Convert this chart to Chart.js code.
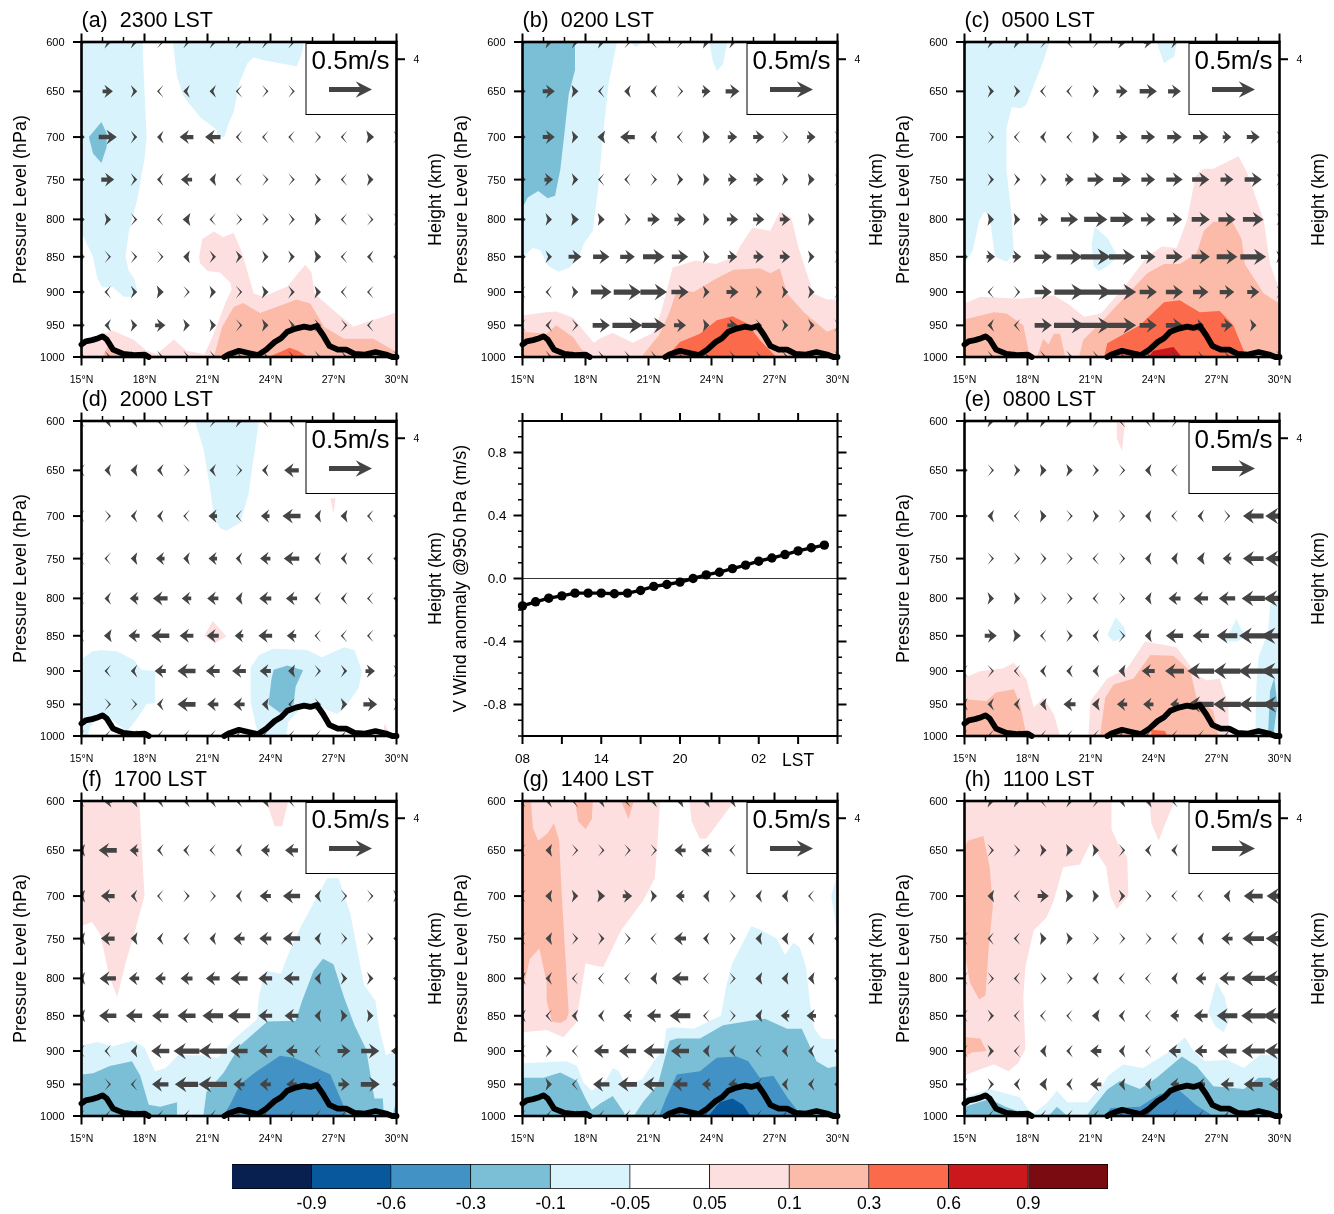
<!DOCTYPE html>
<html>
<head>
<meta charset="utf-8">
<title>Diurnal meridional wind anomaly</title>
<script src="https://cdn.jsdelivr.net/npm/chart.js@4/dist/chart.umd.js"></script>
<style>
  body { margin: 0; background: #fff; }
  #page { position: relative; width: 1334px; height: 1214px; overflow: hidden; }
  canvas { position: absolute; }
</style>
</head>
<body>
<div id="page"></div>
<script>
// shared axes
const pressureLevels = [600, 650, 700, 750, 800, 850, 900, 950, 1000];
const windLats = [15, 16.25, 17.5, 18.75, 20, 21.25, 22.5, 23.75, 25, 26.25, 27.5, 28.75, 30];
const heightTickPressure = [617];
const heightTickLabels = ["4"];

// colour bar
const bandColors = ["#08204f", "#08589e", "#4292c6", "#7bbfd6", "#d9f3fd", "#ffffff", "#fddfe0", "#fcbba9", "#fb6a4a", "#cb181d", "#7a0b10"];
const bandLabels = ["-0.9", "-0.6", "-0.3", "-0.1", "-0.05", "0.05", "0.1", "0.3", "0.6", "0.9"];

// terrain profile (lat, hPa), null leaves the flat stretch to the axis line
const terrainLat = [15, 15.2, 15.5, 15.8, 16, 16.2, 16.5, 17, 17.5, 18, 18.2, 20, 21.8, 22, 22.5, 23, 23.4, 23.8, 24.2, 24.5, 24.8, 25.2, 25.6, 25.9, 26.2, 26.5, 26.8, 27.2, 27.6, 28, 28.5, 29, 29.5, 29.8, 30];
const terrainP = [980, 975, 973, 970, 967, 972, 988, 995, 997, 996, 1000, null, 1000, 996, 990, 994, 997, 988, 976, 970, 960, 955, 952, 954, 951, 965, 982, 988, 988, 995, 996, 992, 996, 1000, 1000];

// middle panel, V wind anomaly at 950 hPa
const hourValues = [0, 1, 2, 3, 4, 5, 6, 7, 8, 9, 10, 11, 12, 13, 14, 15, 16, 17, 18, 19, 20, 21, 22, 23];
const vAnomaly = [-0.174, -0.148, -0.125, -0.11, -0.093, -0.093, -0.093, -0.097, -0.093, -0.076, -0.05, -0.038, -0.023, 0, 0.023, 0.04, 0.063, 0.085, 0.11, 0.13, 0.152, 0.175, 0.195, 0.212];
const hourTickValues = [0, 6, 12, 18, 21];
const hourTickLabels = ["08", "14", "20", "02", "LST"];

// zonal-plane wind, one row per pressure level (m/s)
const windA = [
  [0.03, 0.05, 0.05, 0.02, 0.04, 0.04, 0.04, 0.04, 0.03],
  [0, 0.12, 0.05, -0.02, -0.05, -0.05, -0.02, 0.02, 0.02],
  [0.05, 0.21, 0.04, -0.05, -0.16, -0.18, -0.03, -0.02, -0.02, 0.02, -0.02, 0.09, 0.03],
  [0.06, 0.15, 0.04, -0.04, -0.13, -0.07, -0.02, 0.02, 0.02, 0.04, -0.02, 0.06, 0],
  [0.06, 0.06, 0.03, -0.02, -0.09, -0.02, 0.02, 0.03, 0.03, 0.06, -0.02, 0.02, 0.01],
  [0.06, 0.02, 0.03, 0.02, -0.07, 0.04, 0.05, 0.05, 0.05, 0.08, -0.02, -0.04, -0.03],
  [0.03, -0.03, 0.05, 0.08, 0.02, 0.06, 0.02, 0.06, 0.04, 0.06, -0.02, -0.02, 0],
  [0.01, -0.05, 0.06, 0.12, 0.06, 0.06, 0.02, 0.06, 0.04, 0.04, 0.02, -0.02, 0],
  [0.03, 0.03, 0.03, 0.03, 0.03, 0.03, 0.03, 0.03, 0.03, 0.03, 0.03, 0.03, 0.03]
];
const windB = [
  [0.03, 0.06, 0.05, 0.06, 0.02, -0.02, 0.02, 0.07, 0.05],
  [0.05, 0.14, 0.08, -0.03, -0.06, -0.05, 0.02, 0.1, 0.16],
  [0.05, 0.14, 0.07, -0.09, -0.17, -0.06, -0.03, 0.09, 0.11, 0.13, 0.02, 0.1, 0.02],
  [0.06, 0.1, 0.06, -0.02, -0.03, 0.03, 0.05, 0.07, 0.1, 0.12, 0.05, 0.08, 0.02],
  [0.05, 0.06, 0.09, 0.08, 0.04, 0.14, 0.13, 0.07, 0.13, 0.13, 0.12, 0.07, 0],
  [0.04, 0.05, 0.15, 0.19, 0.17, 0.25, 0.19, 0.06, 0.11, 0.12, 0.12, 0.06, 0.01],
  [-0.02, -0.03, 0.06, 0.24, 0.32, 0.31, 0.2, 0.06, 0.14, 0.05, 0.06, 0.06, 0.01],
  [-0.01, -0.04, 0.03, 0.2, 0.35, 0.28, 0.14, 0.07, 0.12, 0.03, 0.05, 0.05, 0.03],
  [0.03, 0.03, 0.03, 0.03, 0.03, 0.03, 0.03, 0.03, 0.03, 0.03, 0.03, 0.03, 0.03]
];
const windC = [
  [0.03, 0.05, 0.06, 0.02, -0.03, 0.02, 0.1, 0.1, 0.05],
  [0, 0.05, 0.05, -0.03, -0.03, 0.05, 0.13, 0.2, 0.15],
  [0, 0.02, -0.02, -0.05, -0.03, 0.08, 0.13, 0.16, 0.17, 0.18, 0.1, 0.15, 0.03],
  [0, 0.04, 0.04, 0.04, 0.1, 0.19, 0.21, 0.16, 0.19, 0.2, 0.15, 0.2, 0.03],
  [0, 0.07, 0.07, 0.12, 0.2, 0.27, 0.27, 0.17, 0.18, 0.21, 0.2, 0.24, 0.03],
  [0.03, 0.1, 0.1, 0.2, 0.3, 0.35, 0.3, 0.17, 0.19, 0.21, 0.24, 0.3, 0.05],
  [0, -0.02, 0.03, 0.2, 0.35, 0.38, 0.33, 0.2, 0.2, 0.18, 0.17, 0.14, 0.02],
  [0, -0.05, -0.03, 0.2, 0.36, 0.37, 0.33, 0.2, 0.2, 0.06, 0.13, 0.06, 0],
  [0.03, 0.03, 0.03, 0.03, 0.03, 0.03, 0.03, 0.03, 0.03, 0.03, 0.03, 0.03, 0.03]
];
const windD = [
  [-0.03, -0.06, -0.06, -0.03, 0.03, 0.03, 0.05, -0.03, -0.04],
  [-0.04, -0.06, -0.08, -0.05, 0.02, -0.05, 0.02, -0.05, -0.17],
  [-0.02, 0.02, -0.05, -0.05, -0.02, -0.1, -0.02, -0.1, -0.21, -0.07, -0.08, -0.03, -0.08],
  [-0.02, -0.02, -0.07, -0.1, -0.06, -0.1, -0.05, -0.12, -0.18, -0.05, -0.05, -0.03, -0.05],
  [-0.02, -0.05, -0.1, -0.17, -0.11, -0.13, -0.08, -0.14, -0.13, -0.04, -0.04, -0.02, -0.04],
  [-0.02, -0.09, -0.13, -0.21, -0.16, -0.14, -0.1, -0.16, -0.11, -0.02, -0.02, -0.02, -0.02],
  [0, -0.03, -0.05, -0.13, -0.21, -0.16, -0.16, -0.13, -0.08, 0.03, 0.04, 0.11, 0.04],
  [0, 0.02, 0.02, -0.05, -0.21, -0.13, -0.13, -0.08, -0.03, 0.03, 0.06, 0.16, 0.04],
  [-0.02, -0.02, -0.02, -0.02, -0.02, -0.02, -0.02, -0.02, -0.02, -0.02, -0.02, -0.02, -0.02]
];
const windE = [
  [0.03, 0.06, 0.06, 0.06, 0.06, 0.03, -0.02, -0.03, 0.02],
  [0.04, 0.02, 0.05, 0.07, 0.06, 0.04, 0.02, -0.06, -0.02],
  [0.02, -0.06, -0.02, 0.07, 0.02, 0.05, 0.03, -0.06, -0.02, -0.05, 0.02, -0.24, -0.33],
  [0, 0.02, 0.03, 0.03, 0.02, -0.02, 0.02, -0.06, -0.07, -0.09, -0.1, -0.24, -0.33],
  [0, 0.06, 0.06, 0.02, 0.03, -0.03, 0.02, -0.07, -0.14, -0.17, -0.19, -0.27, -0.37],
  [0, 0.14, 0.09, -0.03, 0.04, -0.05, 0.02, -0.08, -0.2, -0.19, -0.24, -0.33, -0.45],
  [-0.03, 0.02, -0.02, -0.05, -0.05, -0.06, -0.08, -0.15, -0.22, -0.31, -0.31, -0.35, -0.45],
  [-0.05, -0.05, -0.05, -0.07, -0.14, -0.09, -0.12, -0.12, -0.1, -0.3, -0.32, -0.33, -0.42],
  [-0.02, -0.02, -0.02, -0.02, -0.02, -0.02, -0.02, -0.02, -0.02, -0.02, -0.02, -0.02, -0.02]
];
const windF = [
  [-0.03, -0.1, -0.08, -0.05, -0.05, -0.05, -0.04, -0.08, -0.03],
  [-0.08, -0.21, -0.1, -0.04, -0.04, -0.02, -0.05, -0.1, -0.15],
  [-0.08, -0.16, -0.05, -0.02, 0.03, 0.02, -0.05, -0.13, -0.2, -0.06, 0.02, 0.02, 0.05],
  [-0.08, -0.16, -0.08, -0.05, -0.04, -0.06, -0.13, -0.14, -0.2, -0.06, 0.03, 0.03, -0.05],
  [-0.08, -0.19, -0.12, -0.12, -0.14, -0.16, -0.2, -0.16, -0.18, -0.07, 0.05, 0.05, -0.08],
  [-0.08, -0.2, -0.19, -0.19, -0.21, -0.24, -0.26, -0.16, -0.16, -0.07, 0.08, 0.07, -0.08],
  [-0.03, -0.03, -0.07, -0.21, -0.3, -0.33, -0.2, -0.16, -0.13, -0.02, 0.15, 0.21, -0.13],
  [0, 0.02, -0.03, -0.19, -0.27, -0.33, -0.13, -0.13, -0.12, -0.03, 0.13, 0.22, -0.1],
  [-0.03, -0.03, -0.03, -0.03, -0.03, -0.03, -0.03, -0.03, -0.03, -0.03, -0.03, -0.03, -0.03]
];
const windG = [
  [-0.03, -0.05, -0.03, -0.06, -0.03, -0.05, -0.08, -0.08, -0.06],
  [-0.02, -0.07, 0.02, 0.02, 0.02, 0.02, -0.13, -0.12, -0.03],
  [-0.03, -0.08, 0.06, 0.09, 0.11, 0.06, -0.1, -0.07, 0.03, -0.06, -0.07, -0.02, 0],
  [-0.03, -0.07, 0.03, 0.04, 0.02, -0.02, -0.14, -0.05, 0.03, -0.07, -0.08, -0.05, -0.02],
  [-0.05, -0.05, -0.02, -0.02, -0.02, -0.08, -0.19, -0.02, 0.02, -0.08, -0.08, -0.07, -0.02],
  [-0.05, -0.03, -0.05, -0.05, -0.1, -0.16, -0.24, -0.02, 0.02, -0.08, -0.1, -0.11, -0.03],
  [-0.02, 0.04, -0.02, -0.17, -0.2, -0.24, -0.21, -0.08, -0.05, -0.03, -0.06, -0.05, -0.04],
  [0, 0.06, -0.02, -0.19, -0.22, -0.24, -0.17, -0.1, -0.1, -0.03, -0.06, -0.05, -0.04],
  [-0.03, -0.03, -0.03, -0.03, -0.03, -0.03, -0.03, -0.03, -0.03, -0.03, -0.03, -0.03, -0.03]
];
const windH = [
  [0, 0.06, 0.06, -0.02, 0.05, 0.03, -0.06, -0.07, -0.03],
  [0, 0.03, 0.03, 0.06, 0.08, 0.07, 0.03, -0.05, -0.05],
  [0, -0.07, -0.03, 0.13, 0.09, 0.07, 0.05, 0.02, -0.02, -0.03, -0.08, -0.22, -0.3],
  [-0.03, -0.03, -0.03, 0.07, 0.06, 0.02, 0.02, 0.02, -0.03, -0.06, -0.13, -0.25, -0.32],
  [-0.03, 0.02, -0.03, 0.03, 0.03, -0.05, -0.03, -0.02, -0.06, -0.12, -0.18, -0.27, -0.35],
  [-0.03, 0.04, -0.02, -0.02, -0.02, -0.09, -0.05, -0.02, -0.1, -0.16, -0.24, -0.28, -0.4],
  [-0.03, 0.05, -0.02, -0.07, -0.04, -0.13, -0.06, -0.02, -0.14, -0.14, -0.22, -0.27, -0.35],
  [-0.03, 0.04, -0.05, -0.09, -0.05, -0.13, -0.07, -0.06, -0.1, -0.1, -0.15, -0.22, -0.25],
  [-0.03, -0.03, -0.03, -0.03, -0.03, -0.03, -0.03, -0.03, -0.03, -0.03, -0.03, -0.03, -0.03]
];

// shaded regions: [band index, lat, hPa, lat, hPa, ...], painted in order
const contourA = [
  [4, 15,600, 17.9,600, 18,650, 18.1,700, 18,725, 17.65,775, 17.25,817, 17.1,850, 17.25,870, 17.5,880, 17.65,897, 17.5,907, 17,907, 16.5,893, 16,893, 15.75,880, 15.55,850, 15.1,823, 15,818],
  [4, 19.35,600, 19.55,635, 19.85,655, 20.65,678, 21.45,692, 21.45,700, 21.8,700, 22,685, 22.25,672, 22.5,642, 22.9,621, 23.2,615, 23.65,618, 24.45,621, 25.25,624, 25.5,611, 25.6,600],
  [3, 15.35,700, 15.95,683, 16.2,696, 16.2,711, 15.95,730, 15.55,719],
  [6, 20.6,850, 20.75,826, 21.3,816, 21.75,823, 22.25,818, 22.65,845, 23.2,902, 23.65,907, 24.8,892, 25.65,861, 25.95,872, 26.1,902, 27,927, 27.95,952, 28.6,945, 29.4,937, 30,930, 30,1000, 20.8,1000, 21.3,963, 21.9,912, 22.15,897, 22.1,887, 21.6,872, 21,870, 20.65,859],
  [6, 15,982, 16.05,963, 16.5,958, 17.5,973, 18.1,990, 18.6,995, 19.4,972, 20,990, 20.8,995, 20.8,1000, 15,1000],
  [7, 21.3,1000, 21.7,952, 22.25,922, 22.7,916, 23.5,931, 25.25,911, 25.9,917, 26.55,952, 27.5,971, 28.9,971, 30,992, 30,1000],
  [7, 16,1000, 16.3,980, 16.8,990, 17.3,1000],
  [8, 23.9,1000, 24.6,990, 24.9,985, 25.3,990, 25.8,1000]
];
const contourB = [
  [4, 15,600, 19.5,600, 19.1,642, 18.85,695, 18.6,762, 18.35,815, 17.9,833, 17.7,850, 17.25,865, 16.7,871, 16.2,862, 15.85,841, 15.5,838, 15,850],
  [4, 23.9,600, 24.05,618, 24.25,629, 24.55,622, 24.75,600],
  [4, 20.1,600, 20.4,605, 20.7,600],
  [3, 15,600, 17.5,600, 17.5,628, 17.2,653, 17,695, 16.8,738, 16.55,770, 16.2,773, 15.75,764, 15.25,772, 15,785],
  [6, 15,935, 16.1,930, 16.6,929, 17.4,938, 18,962, 18.4,977, 18.7,970, 19.3,962, 20.25,977, 21.2,962, 21.6,930, 22.15,865, 23.25,855, 24.2,860, 25.1,850, 25.4,834, 25.95,811, 26.8,815, 27.25,790, 27.8,798, 28.15,838, 28.85,902, 29.5,911, 30,911, 30,1000, 15,1000],
  [7, 15,960, 16.15,963, 16.6,950, 17.4,968, 17.8,987, 18.2,1000, 15,1000],
  [7, 20.65,1000, 21.5,965, 22,930, 22.35,897, 23.15,900, 24.25,880, 25.05,868, 26.3,866, 26.8,873, 27.25,866, 27.6,902, 28.4,930, 29.5,960, 30,953, 30,1000],
  [8, 21.85,1000, 22.5,976, 23.45,963, 24.25,942, 25,936, 25.7,947, 26.3,973, 26.95,995, 27.1,1000]
];
const contourC = [
  [4, 15,600, 19.05,600, 18.75,619, 17.95,664, 17.7,668, 17.25,667, 17,690, 17,738, 17.25,797, 17.35,846, 17,857, 16.45,850, 16.2,797, 15.95,790, 15.7,801, 15.4,841, 15,860],
  [4, 24.15,600, 24.5,621, 25,614, 25.1,600],
  [4, 21.2,810, 21.8,824, 22.3,850, 21.8,863, 21.4,870, 21.15,863, 21.05,833],
  [6, 15,917, 15.75,907, 17.65,910, 19.25,905, 19.9,917, 20.7,937, 21.5,932, 22.6,893, 23.7,850, 24.4,836, 25.1,838, 25.6,801, 26,746, 26.4,737, 26.85,737, 28.05,722, 28.45,741, 29.25,801, 29.55,860, 30,897, 30,1000, 15,1000],
  [7, 15,941, 16.4,930, 17,932, 17.8,950, 18.05,990, 18.05,1000, 15,1000],
  [7, 18.45,1000, 18.75,971, 19,980, 19.25,963, 19.55,963, 19.8,1000],
  [7, 20.45,1000, 20.65,973, 21.75,937, 23.7,873, 24.5,860, 25.25,860, 26.05,845, 26.4,815, 26.85,803, 27.75,803, 28.2,826, 28.35,860, 29.25,902, 30,917, 30,1000],
  [8, 21.65,1000, 21.8,978, 23.35,950, 24.5,915, 25.25,912, 26.2,930, 27.15,928, 27.8,950, 28.3,990, 28.35,1000],
  [9, 23.75,1000, 24,990, 24.95,984, 25.35,1000]
];
const contourD = [
  [4, 20.4,600, 20.8,627, 21.1,666, 21.3,700, 21.6,714, 21.9,717, 22.55,708, 22.95,676, 23.45,600],
  [4, 15,883, 15.5,872, 15.95,870, 16.7,872, 17.5,884, 17.85,898, 18.5,900, 18.5,948, 18.1,950, 17.65,972, 17.15,993, 16.5,975, 16,965, 15.4,985, 15.3,1000, 15,1000],
  [4, 23.35,990, 23.05,946, 23.05,895, 23.45,877, 24.15,868, 25.75,870, 26.45,880, 27.5,866, 28,870, 28.35,900, 28.2,925, 27.65,950, 27.2,965, 26.2,953, 25.4,958, 24.85,977, 24.75,1000, 23.65,1000],
  [3, 24.15,898, 24.8,892, 25.55,899, 25.2,923, 25.1,950, 24.45,963, 23.9,950, 24.05,911],
  [6, 20.85,850, 21.25,830, 21.9,851, 21.35,860],
  [6, 26.85,680, 27.1,680, 27,697],
  [6, 29.45,980, 29.7,1000, 29.3,1000]
];
const contourE = [
  [6, 22.25,600, 22.65,600, 22.5,630, 22.25,617],
  [4, 21.8,849, 22.2,825, 22.6,838, 22.7,851, 22.1,858],
  [4, 27.4,858, 27.95,827, 28.35,851, 28,858],
  [4, 30,790, 29.55,810, 29.45,845, 29,880, 28.9,920, 28.85,1000, 30,1000],
  [3, 29.75,910, 29.55,930, 29.45,1000, 29.7,1000, 29.9,950],
  [6, 15,910, 15.75,900, 16.85,896, 17.35,888, 17.95,912, 18.3,955, 18.75,940, 19.25,965, 19.55,1000, 15,1000],
  [7, 15,942, 16.05,945, 16.5,932, 17.35,927, 17.65,950, 17.95,1000, 15,1000],
  [6, 20.9,1000, 21,945, 21.8,911, 22.75,896, 23.6,858, 25.1,866, 26.05,905, 26.55,914, 27.15,911, 27.55,950, 27.6,1000],
  [7, 21.45,1000, 21.7,940, 22.1,920, 23.05,911, 23.85,877, 24.95,878, 25.75,900, 26.05,940, 26.85,960, 27.1,1000],
  [8, 23.9,1000, 23.9,990, 24.55,992, 24.65,1000]
];
const contourF = [
  [6, 15,600, 17.75,600, 18,700, 17.5,745, 17.1,780, 16.7,825, 16.3,795, 15.9,745, 15.5,730, 15,735],
  [6, 23.8,600, 24.85,600, 24.55,625, 24.2,625],
  [4, 15,892, 15.75,887, 16.5,893, 17.45,885, 18,895, 18.5,930, 19,925, 19.6,906, 20.7,906, 21.5,910, 22.3,882, 23.35,855, 23.45,823, 23.75,790, 24.5,794, 24.8,772, 25.45,735, 26.7,680, 27.25,680, 27.8,720, 28.45,808, 29,830, 29.15,863, 29.5,906, 30,900, 30,1000, 15,1000],
  [3, 15,935, 15.55,933, 16.35,922, 17.4,915, 17.8,937, 18.2,982, 18.75,985, 19.55,978, 19.55,1000, 15,1000],
  [3, 20.8,1000, 20.95,962, 21.75,933, 22.55,892, 23.85,858, 25.2,857, 25.5,830, 26.05,790, 26.5,775, 27,782, 27.5,825, 28,863, 28.55,897, 28.95,972, 29.35,972, 29.4,1000],
  [3, 29.8,1000, 30,975, 30,1000],
  [2, 21.75,1000, 22.1,980, 22.55,950, 23.35,930, 24.45,907, 25.1,910, 26.85,935, 27.5,985, 27.65,1000]
];
const contourG = [
  [6, 15,600, 21.55,600, 21.45,635, 21.3,680, 20.75,705, 19.7,740, 18.85,785, 18.7,785, 18,781, 17.55,860, 16.95,880, 16.15,870, 15,873],
  [6, 22.95,600, 25.1,600, 23.75,638, 23.45,638, 23.05,620],
  [7, 15,600, 15.4,600, 15.5,627, 15.75,640, 16.2,632, 16.5,622, 16.75,640, 16.85,690, 17.2,845, 17.1,855, 16.8,860, 16.4,858, 16.15,830, 16.15,805, 15.8,762, 15.35,775, 15,818],
  [7, 17.5,600, 18.35,600, 18.3,618, 18,628, 17.65,620],
  [7, 19.7,600, 20.3,600, 20.05,618],
  [4, 15,918, 15.8,917, 17.1,915, 17.6,922, 17.9,947, 18.3,960, 19,942, 19.3,925, 19.6,930, 19.9,952, 20.7,942, 21.35,911, 21.7,900, 21.85,868, 22.15,866, 23.15,868, 24.45,850, 24.7,810, 25,780, 25.9,735, 26.4,740, 27.1,750, 27.5,770, 27.9,755, 28.2,761, 28.5,785, 28.7,835, 28.9,868, 29.25,882, 29.9,883, 30,1000, 15,1000],
  [4, 30,675, 29.7,700, 30,745],
  [3, 15,940, 16,940, 16.8,932, 17.6,945, 18.05,975, 18.3,990, 18.7,980, 19.3,968, 19.85,995, 19.85,1000, 15,1000],
  [3, 20.3,1000, 20.75,977, 21.45,950, 22,885, 22.35,882, 23.45,882, 24.55,863, 25.85,857, 26.55,854, 27.6,868, 28.3,868, 29,915, 29.55,925, 30,922, 30,1000],
  [2, 21.5,1000, 21.85,970, 22.35,935, 23.45,930, 24.25,910, 25.2,908, 25.75,915, 26.3,940, 26.95,937, 27.6,970, 28.3,1000],
  [1, 23.85,1000, 24.4,978, 25,972, 25.5,982, 25.85,1000]
];
const contourH = [
  [6, 15,600, 22,600, 22,628, 22.35,645, 22.75,657, 22.8,700, 22.25,715, 21.95,700, 21.75,668, 21,642, 20.5,665, 19.7,668, 19.25,705, 18.9,725, 18.3,740, 17.9,785, 17.8,825, 17.9,897, 17.55,918, 17.1,930, 16.4,920, 15.75,927, 15,937],
  [6, 23.8,600, 25,600, 24.45,628, 24.25,640, 23.9,622],
  [7, 15,648, 15.15,640, 15.9,635, 16.2,668, 16.35,712, 16.15,762, 16,822, 15.7,828, 15.25,805, 15,766],
  [7, 15,880, 15.75,882, 16.05,900, 15.35,902, 15,908],
  [4, 15,970, 16.2,957, 17.65,970, 18.05,990, 18.3,995, 18.9,980, 19.4,960, 19.9,978, 20.85,978, 21.6,950, 21.8,938, 22.55,920, 23.5,925, 24.65,903, 25.5,880, 25.9,900, 26.45,915, 27.5,913, 28.3,925, 29.1,905, 30,907, 30,1000, 15,1000],
  [4, 27,805, 27.4,825, 27.6,855, 27.35,873, 26.95,865, 26.6,845],
  [3, 15,985, 16.2,973, 16.95,985, 17.8,995, 18,1000, 15,1000],
  [3, 19,1000, 19.4,985, 19.9,1000],
  [3, 20.8,1000, 21.8,958, 22.4,945, 23.35,957, 24.15,940, 25.35,908, 26.05,922, 26.85,953, 28.3,957, 29,940, 29.55,940, 30,953, 30,1000],
  [2, 21.7,1000, 21.95,987, 23.35,985, 24.3,965, 25.25,960, 26.05,983, 26.85,1000]
];

const panels = [
  { title: "(a)  2300 LST", wind: windA, contours: contourA, col: 0, row: 0 },
  { title: "(b)  0200 LST", wind: windB, contours: contourB, col: 1, row: 0 },
  { title: "(c)  0500 LST", wind: windC, contours: contourC, col: 2, row: 0 },
  { title: "(d)  2000 LST", wind: windD, contours: contourD, col: 0, row: 1 },
  { title: "(e)  0800 LST", wind: windE, contours: contourE, col: 2, row: 1 },
  { title: "(f)  1700 LST", wind: windF, contours: contourF, col: 0, row: 2 },
  { title: "(g)  1400 LST", wind: windG, contours: contourG, col: 1, row: 2 },
  { title: "(h)  1100 LST", wind: windH, contours: contourH, col: 2, row: 2 }
];

// page layout
const colLeft = [0, 441, 883];
const rowTop = [0, 379, 759];
const canvasW = 447, canvasH = 397;
const leftW = 81.5, rightW = 50.5, bottomH = 40;
const arrowColor = "#444444";
const pxPerMs = 86; // 0.5 m/s reference arrow is 43 px

Chart.defaults.font.family = '"Liberation Sans", Arial, sans-serif';
Chart.defaults.color = "#000";
Chart.defaults.animation = false;

function addCanvas(left, top, w, h) {
  const c = document.createElement("canvas");
  c.width = w;
  c.height = h;
  c.style.left = left + "px";
  c.style.top = top + "px";
  document.getElementById("page").appendChild(c);
  return c;
}

// NCL-style filled arrow, thin chevrons for weak wind
function drawArrow(ctx, cx, cy, u) {
  if (!u) return;
  const len = Math.abs(u) * pxPerMs;
  const L = Math.max(len, 6.5);
  const hl = Math.min(L, 6 + 0.24 * L);
  const hh = Math.min(8.2, 5.8 + 0.09 * L);
  const sw = Math.min(2.6, 1.4 + 0.05 * L);
  const back = L / 2 - hl;
  ctx.save();
  ctx.translate(cx, cy);
  if (u < 0) ctx.scale(-1, 1);
  ctx.beginPath();
  ctx.moveTo(L / 2, 0);
  ctx.lineTo(back, hh);
  if (L > hl + 0.5) {
    const neck = back + hl * 0.25;
    ctx.lineTo(neck, sw);
    ctx.lineTo(-L / 2, sw);
    ctx.lineTo(-L / 2, -sw);
    ctx.lineTo(neck, -sw);
  } else {
    const thick = Math.max(2, len * 0.9);
    ctx.lineTo(back + Math.max(hl - thick, hl * 0.2), 0);
  }
  ctx.lineTo(back, -hh);
  ctx.closePath();
  ctx.fillStyle = arrowColor;
  ctx.fill();
  ctx.restore();
}

function drawTicks(ctx, scale, side, isMajor, majorLen, minorLen) {
  const area = scale.chart.chartArea;
  ctx.strokeStyle = "#000";
  scale.ticks.forEach(t => {
    const major = isMajor(t.value);
    const len = major ? majorLen : minorLen;
    const p = scale.getPixelForValue(t.value);
    ctx.lineWidth = major ? 2 : 1.5;
    ctx.beginPath();
    if (side === "left") { ctx.moveTo(area.left, p); ctx.lineTo(area.left - len, p); }
    if (side === "right") { ctx.moveTo(area.right, p); ctx.lineTo(area.right + len, p); }
    if (side === "top") { ctx.moveTo(p, area.top); ctx.lineTo(p, area.top - len); }
    if (side === "bottom") { ctx.moveTo(p, area.bottom); ctx.lineTo(p, area.bottom + len); }
    ctx.stroke();
  });
}

function drawFrame(ctx, area, width) {
  ctx.strokeStyle = "#000";
  ctx.lineWidth = width;
  ctx.strokeRect(area.left, area.top, area.right - area.left, area.bottom - area.top);
}

const windPanelPlugin = {
  id: "windPanel",
  beforeDatasetsDraw(chart) {
    const { ctx, chartArea: area } = chart;
    ctx.save();
    ctx.beginPath();
    ctx.rect(area.left, area.top, area.right - area.left, area.bottom - area.top);
    ctx.clip();
    chart.data.datasets.forEach((ds, i) => {
      const points = chart.getDatasetMeta(i).data;
      if (ds.kind === "contour") {
        ctx.beginPath();
        points.forEach((pt, k) => (k ? ctx.lineTo(pt.x, pt.y) : ctx.moveTo(pt.x, pt.y)));
        ctx.closePath();
        ctx.fillStyle = ds.backgroundColor;
        ctx.fill();
      }
      if (ds.kind === "wind") {
        points.forEach((pt, k) => drawArrow(ctx, pt.x, pt.y, ds.data[k].u));
      }
    });
    ctx.restore();
  },
  afterDatasetsDraw(chart) {
    const { ctx, chartArea: area, scales } = chart;
    ctx.save();
    drawTicks(ctx, scales.x, "top", v => v % 3 === 0, 8.5, 5);
    drawTicks(ctx, scales.x, "bottom", v => v % 3 === 0, 8.5, 5);
    drawTicks(ctx, scales.y, "left", () => true, 8.5, 8.5);
    drawTicks(ctx, scales.y2, "right", () => true, 8.5, 8.5);

    // reference vector box
    const boxL = area.right - 90.5, boxT = area.top + 1.5;
    ctx.fillStyle = "#fff";
    ctx.fillRect(boxL, boxT, 90.5, 71);
    ctx.strokeStyle = "#000";
    ctx.lineWidth = 1;
    ctx.strokeRect(boxL, boxT, 90.5, 71);
    ctx.fillStyle = "#000";
    ctx.font = '26px "Liberation Sans", Arial, sans-serif';
    ctx.textAlign = "center";
    ctx.textBaseline = "alphabetic";
    ctx.fillText("0.5m/s", boxL + 44.5, boxT + 25);
    drawArrow(ctx, boxL + 44.5, boxT + 46, 0.5);

    drawFrame(ctx, area, 2.6);

    // right axis title reads bottom to top, which the native one can't do
    ctx.save();
    ctx.translate(area.right + 40, (area.top + area.bottom) / 2);
    ctx.rotate(-Math.PI / 2);
    ctx.font = '18px "Liberation Sans", Arial, sans-serif';
    ctx.textBaseline = "middle";
    ctx.fillStyle = "#000";
    ctx.fillText("Height (km)", 0, 0);
    ctx.restore();
    ctx.restore();
  }
};

function windChart(panel) {
  const canvas = addCanvas(colLeft[panel.col], rowTop[panel.row], canvasW, canvasH);
  const datasets = [];
  panel.contours.forEach(entry => {
    const pts = [];
    for (let i = 1; i < entry.length; i += 2) pts.push({ x: entry[i], y: entry[i + 1] });
    datasets.push({ kind: "contour", data: pts, backgroundColor: bandColors[entry[0]], pointRadius: 0 });
  });
  const windPoints = [];
  panel.wind.forEach((row, r) => {
    row.forEach((u, c) => windPoints.push({ x: windLats[c], y: pressureLevels[r], u: u }));
  });
  datasets.push({ kind: "wind", data: windPoints, pointRadius: 0 });
  datasets.push({
    type: "line",
    data: terrainLat.map((lat, i) => ({ x: lat, y: terrainP[i] })),
    borderColor: "#000",
    borderWidth: 5.8,
    pointRadius: 0,
    spanGaps: false,
    borderJoinStyle: "round",
    borderCapStyle: "round",
    clip: 5
  });

  return new Chart(canvas, {
    type: "scatter",
    data: { datasets },
    plugins: [windPanelPlugin],
    options: {
      responsive: false,
      events: [],
      layout: { autoPadding: false, padding: 0 },
      plugins: {
        legend: { display: false },
        tooltip: { enabled: false },
        title: {
          display: true,
          text: panel.title,
          align: "start",
          fullSize: false,
          color: "#000",
          font: { size: 21.5, weight: "normal", lineHeight: 1 },
          padding: { top: 10, bottom: 10.5 }
        }
      },
      scales: {
        x: {
          type: "linear",
          min: 15,
          max: 30,
          grid: { display: false, drawTicks: false },
          border: { display: false },
          afterFit: s => { s.height = bottomH; },
          ticks: {
            stepSize: 1,
            autoSkip: false,
            maxRotation: 0,
            padding: 17,
            font: { size: 10.5 },
            callback: v => (v % 3 === 0 ? v + "°N" : "")
          }
        },
        y: {
          type: "logarithmic",
          reverse: true,
          min: 600,
          max: 1000,
          grid: { display: false, drawTicks: false },
          border: { display: false },
          afterFit: s => { s.width = leftW; },
          afterBuildTicks: s => { s.ticks = pressureLevels.map(p => ({ value: p })); },
          title: { display: true, text: "Pressure Level (hPa)", font: { size: 18 }, padding: { top: 10, bottom: 0 } },
          ticks: { autoSkip: false, padding: 17, labelOffset: 1, font: { size: 11 }, callback: v => String(v) }
        },
        y2: {
          type: "logarithmic",
          position: "right",
          reverse: true,
          min: 600,
          max: 1000,
          grid: { display: false, drawTicks: false },
          border: { display: false },
          afterFit: s => { s.width = rightW; },
          afterBuildTicks: s => { s.ticks = heightTickPressure.map(p => ({ value: p })); },
          ticks: { autoSkip: false, padding: 17, labelOffset: 1, font: { size: 10.5 }, callback: (v, i) => heightTickLabels[i] }
        }
      }
    }
  });
}

panels.forEach(windChart);

// middle panel
const seriesPanelPlugin = {
  id: "seriesPanel",
  afterDatasetsDraw(chart) {
    const { ctx, chartArea: area, scales } = chart;
    const majorY = v => Math.round(v * 10) % 4 === 0;
    ctx.save();
    drawTicks(ctx, scales.x, "top", () => true, 8, 8);
    drawTicks(ctx, scales.x, "bottom", () => true, 8, 8);
    drawTicks(ctx, scales.y, "left", majorY, 9, 4.5);
    drawTicks(ctx, scales.y, "right", majorY, 9, 4.5);
    drawFrame(ctx, area, 2);
    ctx.restore();
  }
};

new Chart(addCanvas(colLeft[1], rowTop[1], canvasW, canvasH), {
  type: "line",
  data: {
    datasets: [
      {
        data: hourValues.map((h, i) => ({ x: h, y: vAnomaly[i] })),
        borderColor: "#000",
        backgroundColor: "#000",
        borderWidth: 3.4,
        pointRadius: 4.7,
        pointBorderWidth: 0,
        tension: 0,
        clip: 6
      },
      {
        data: [{ x: 0, y: 0 }, { x: 24, y: 0 }],
        borderColor: "#333",
        borderWidth: 1,
        pointRadius: 0
      }
    ]
  },
  plugins: [seriesPanelPlugin],
  options: {
    responsive: false,
    events: [],
    layout: { autoPadding: false, padding: { right: rightW, top: 42 } },
    plugins: { legend: { display: false }, tooltip: { enabled: false } },
    scales: {
      x: {
        type: "linear",
        min: 0,
        max: 24,
        grid: { display: false, drawTicks: false },
        border: { display: false },
        afterFit: s => { s.height = bottomH; },
        ticks: {
          stepSize: 3,
          autoSkip: false,
          maxRotation: 0,
          padding: 15,
          font: ctx => ({ size: ctx.tick && ctx.tick.value === 21 ? 17.5 : 13.5 }),
          callback: v => {
            const i = hourTickValues.indexOf(v);
            return i >= 0 ? hourTickLabels[i] : "";
          }
        }
      },
      y: {
        type: "linear",
        min: -1,
        max: 1,
        grid: { display: false, drawTicks: false },
        border: { display: false },
        afterFit: s => { s.width = leftW; },
        title: { display: true, text: "V Wind anomaly @950 hPa (m/s)", font: { size: 18 }, padding: { top: 9, bottom: 0 } },
        ticks: {
          stepSize: 0.1,
          autoSkip: false,
          padding: 16,
          labelOffset: 1,
          font: { size: 13.5 },
          callback: v => (Math.round(v * 10) % 4 === 0 ? v.toFixed(1) : "")
        }
      }
    }
  }
});

// colour bar
new Chart(addCanvas(212, 1155, 916, 59), {
  type: "bar",
  data: {
    labels: ["bar"],
    datasets: bandColors.map(color => ({
      data: [1],
      backgroundColor: color,
      borderColor: "#000",
      borderWidth: 1,
      barPercentage: 1,
      categoryPercentage: 1
    }))
  },
  options: {
    indexAxis: "y",
    responsive: false,
    events: [],
    layout: { autoPadding: false, padding: { left: 20, right: 20, top: 9 } },
    plugins: { legend: { display: false }, tooltip: { enabled: false } },
    scales: {
      x: {
        type: "linear",
        stacked: true,
        min: 0,
        max: bandColors.length,
        grid: { display: false, drawTicks: false },
        border: { display: false },
        afterFit: s => { s.height = 25; },
        ticks: {
          stepSize: 1,
          autoSkip: false,
          maxRotation: 0,
          padding: 5,
          font: { size: 17.5 },
          callback: v => bandLabels[v - 1] || ""
        }
      },
      y: { stacked: true, display: false }
    }
  }
});
</script>
</body>
</html>
